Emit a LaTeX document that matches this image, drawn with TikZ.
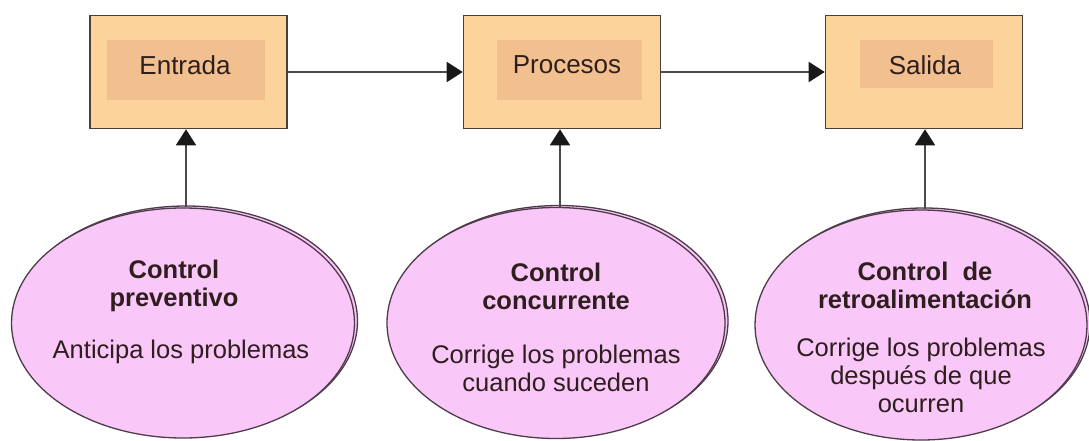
\documentclass[tikz,border=0pt]{standalone}
\usepackage{fontspec}
\setmainfont{Liberation Sans}
\usetikzlibrary{arrows.meta,shapes.geometric}
\definecolor{boxfill}{HTML}{FDD39C}
\definecolor{innerfill}{HTML}{F2C08E}
\definecolor{boxline}{HTML}{4A3F36}
\definecolor{ellfill}{HTML}{F9C7F8}
\definecolor{ellline}{HTML}{4E3C4A}
\definecolor{txt}{HTML}{2E1E1E}
\definecolor{arrline}{HTML}{4A4A4A}
\tikzset{
  outerbox/.style={draw=boxline, line width=1.6pt, fill=boxfill, minimum width=197pt, minimum height=113pt, inner sep=0pt},
  innerbox/.style={fill=innerfill, inner sep=0pt},
  boxtext/.style={text=txt, font=\fontsize{26}{29}\selectfont, inner sep=0pt},
  ctrl/.style={draw=ellline, line width=1.3pt, fill=ellfill, ellipse, inner sep=0pt},
  title/.style={text=txt, font=\fontsize{25.5}{28}\bfseries\selectfont, align=center, inner sep=0pt},
  desc/.style={text=txt, font=\fontsize{25.5}{28}\selectfont, align=center, inner sep=0pt},
  arr/.style={draw=arrline, line width=1.8pt, -{Triangle[length=16pt,width=20pt,color=black!90]}}
}
\begin{document}
\begin{tikzpicture}[x=1pt,y=-1pt]
\useasboundingbox (0,0) rectangle (1089,441);
% boxes
\node[outerbox] (box1) at (188.5,72) {};
\node[innerbox, minimum width=158pt, minimum height=60pt] (in1) at (186,70) {};
\node[boxtext] (t1) at (185,65) {Entrada};
\node[outerbox] (box2) at (562,72) {};
\node[innerbox, minimum width=145pt, minimum height=60pt] (in2) at (569.5,70) {};
\node[boxtext] (t2) at (567,65) {Procesos};
\node[outerbox] (box3) at (924,72) {};
\node[innerbox, minimum width=133pt, minimum height=48pt] (in3) at (926.5,64) {};
\node[boxtext] (t3) at (925,65) {Salida};
% ellipses (with offset back outline)
\node[ctrl, minimum width=343pt, minimum height=230pt] (e1b) at (186,321) {};
\node[ctrl, minimum width=343pt, minimum height=230pt] (e1) at (183,323) {};
\node[ctrl, minimum width=338pt, minimum height=231pt] (e2b) at (559,321) {};
\node[ctrl, minimum width=338pt, minimum height=231pt] (e2) at (556,323) {};
\node[ctrl, minimum width=332pt, minimum height=230pt] (e3b) at (924,323) {};
\node[ctrl, minimum width=332pt, minimum height=230pt] (e3) at (921,325) {};
% texts
\node[title] (h1) at (174,286) {Control\\preventivo};
\node[desc] (d1) at (181,352) {Anticipa los problemas};
\node[title] (h2) at (556,286) {Control\\concurrente};
\node[desc] (d2) at (556,368.5) {Corrige los problemas\\cuando suceden};
\node[title] (h3) at (925,285) {Control\ \ de\\retroalimentación};
\node[desc] (d3) at (921,375) {Corrige los problemas\\después de que\\ocurren};
% connectors
\draw[arr] (box1.east) -- (box2.west);
\draw[arr] (box2.east) -- (box3.west);
\draw[arr] (e1.north -| 186,0) -- (box1.south -| 186,0);
\draw[arr] (e2.north -| 560,0) -- (box2.south -| 560,0);
\draw[arr] (e3.north -| 925,0) -- (box3.south -| 925,0);
\end{tikzpicture}
\end{document}
